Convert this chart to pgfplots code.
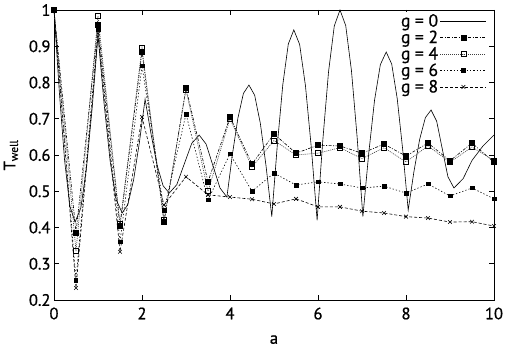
\documentclass[border=0pt]{standalone}
\usepackage{fontspec}
\setmainfont{PT Sans}
\newfontfamily\labfont{PT Sans}[FakeBold=0.8]
\usepackage{pgfplots}
\pgfplotsset{compat=1.18}
\usepackage{pgfplotstable}

\pgfplotstableread{
a y
0 1.0
0.12 0.776
0.24 0.586
0.36 0.459
0.48 0.415
0.61 0.454
0.74 0.566
0.87 0.733
1.0 0.93
1.1375 0.7425
1.275 0.584
1.4125 0.477
1.55 0.44
1.68 0.464
1.81 0.532
1.94 0.634
2.07 0.754
2.21 0.655
2.345 0.571
2.48 0.515
2.62 0.495
2.79 0.518
2.96 0.575
3.13 0.632
3.3 0.655
3.4575 0.630
3.615 0.5695
3.7725 0.509
3.93 0.484
4.055 0.602
4.18 0.702
4.305 0.770
4.43 0.793
4.56 0.765
4.69 0.687
4.82 0.569
4.95 0.43
5.075 0.627
5.2 0.794
5.325 0.906
5.45 0.945
5.5825 0.905
5.715 0.791
5.8475 0.621
5.98 0.42
6.11 0.642
6.24 0.830
6.37 0.956
6.5 1.0
6.63 0.957
6.76 0.833
6.89 0.648
7.02 0.43
7.1525 0.604
7.285 0.751
7.4175 0.8495
7.55 0.884
7.675 0.851
7.8 0.756
7.925 0.615
8.05 0.448
8.18 0.554
8.31 0.643
8.44 0.703
8.57 0.724
8.6975 0.693
8.825 0.6165
8.9525 0.540
9.09 0.509
9.3 0.535
9.5 0.585
9.75 0.625
10 0.655
}\gzero

\pgfplotstableread{
a g2 g4 g6 g8
0   1.0   1.0   1.0   1.0
0.5 0.385 0.335 0.255 0.233
1   0.958 0.983 0.945 0.935
1.5 0.404 0.41  0.36  0.333
2   0.884 0.895 0.846 0.705
2.5 0.415 0.42  0.448 0.462
3   0.785 0.78  0.713 0.54
3.5 0.526 0.50  0.476 0.49
4   0.705 0.70  0.603 0.484
4.5 0.575 0.567 0.50  0.478
5   0.658 0.640 0.55  0.465
5.5 0.605 0.600 0.517 0.479
6   0.627 0.605 0.526 0.457
6.5 0.625 0.620 0.52  0.457
7   0.605 0.590 0.509 0.445
7.5 0.630 0.620 0.514 0.44
8   0.597 0.581 0.495 0.43
8.5 0.633 0.625 0.52  0.426
9   0.584 0.580 0.487 0.415
9.5 0.633 0.622 0.509 0.416
10  0.580 0.585 0.479 0.404
}\gdata

\begin{document}
\begin{tikzpicture}
\begin{axis}[
  scale only axis,
  width=440pt, height=290pt,
  xmin=0, xmax=10, ymin=0.2, ymax=1,
  xtick={0,2,4,6,8,10},
  ytick={0.2,0.3,0.4,0.5,0.6,0.7,0.8,0.9,1},
  yticklabels={0.2,0.3,0.4,0.5,0.6,0.7,0.8,0.9,1},
  /pgf/number format/assume math mode=true,
  tick label style={font=\labfont\fontsize{16.5}{18}\selectfont},
  label style={font=\labfont\fontsize{16.5}{18}\selectfont},
  xticklabel style={yshift=-4pt},
  xlabel={a},
  xlabel style={yshift=-9pt},
  ylabel={T\textsubscript{well}},
  ylabel style={yshift=4pt},
  axis line style={line width=0.9pt},
  major tick length=5pt,
  every tick/.style={line width=0.7pt, black},
  legend style={at={(0.985,0.995)}, anchor=north east, draw=none, fill=white,
    font=\labfont\fontsize{17.5}{18}\selectfont, row sep=-1.5pt, inner sep=0.5pt},
  legend cell align=right,
  legend plot pos=right,
  legend image code/.code={\draw[mark repeat=2,mark phase=2,#1] plot coordinates {(0pt,0pt) (23pt,0pt) (46pt,0pt)};},
]
\addplot[black, line width=0.6pt, mark=none] table[x=a,y=y] {\gzero};
\addlegendentry{g = 0}
\addplot[black, line width=0.6pt, dash pattern=on 3pt off 1.5pt on 1pt off 1.5pt, mark=square*, mark size=2.5pt, mark options={solid}] table[x=a,y=g2] {\gdata};
\addlegendentry{g = 2}
\addplot[black!75, line width=0.6pt, dash pattern=on 1pt off 1pt, mark=square, mark size=2.5pt, mark options={solid, black}] table[x=a,y=g4] {\gdata};
\addlegendentry{g = 4}
\addplot[black, line width=0.6pt, dash pattern=on 1.3pt off 2pt, mark=square*, mark size=1.8pt, mark options={solid}] table[x=a,y=g6] {\gdata};
\addlegendentry{g = 6}
\addplot[black, line width=0.6pt, dash pattern=on 3pt off 2pt, mark=x, mark size=2.6pt, mark options={solid}] table[x=a,y=g8] {\gdata};
\addlegendentry{g = 8}
\end{axis}
\path ([shift={(-54pt,-57pt)}]current axis.south west) rectangle ([shift={(20pt,10pt)}]current axis.north east);
\end{tikzpicture}
\end{document}
